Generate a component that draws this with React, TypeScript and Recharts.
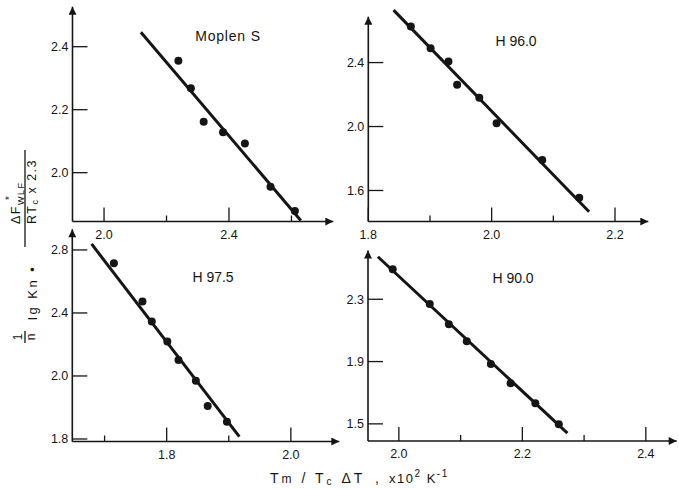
import { ScatterChart, Scatter, XAxis, YAxis, ReferenceLine } from "recharts";

const W = 679;
const H = 489;
const FONT = '"Liberation Sans", Arial, sans-serif';
const INK = "#151515";

// Moplen S
const MOPLEN_X = [2.238, 2.278, 2.319, 2.381, 2.451, 2.533, 2.611];
const MOPLEN_Y = [2.355, 2.268, 2.162, 2.128, 2.093, 1.955, 1.878];
const MOPLEN_FIT_X = [2.118, 2.63];
const MOPLEN_FIT_Y = [2.446, 1.848];

// H 96.0
const H960_X = [1.869, 1.901, 1.93, 1.944, 1.98, 2.008, 2.082, 2.142];
const H960_Y = [2.625, 2.49, 2.406, 2.262, 2.18, 2.02, 1.791, 1.555];
const H960_FIT_X = [1.841, 2.158];
const H960_FIT_Y = [2.728, 1.467];

// H 97.5
const H975_X = [1.715, 1.761, 1.776, 1.801, 1.819, 1.847, 1.866, 1.897];
const H975_Y = [2.716, 2.472, 2.345, 2.218, 2.102, 1.97, 1.81, 1.71];
const H975_FIT_X = [1.679, 1.917];
const H975_FIT_Y = [2.838, 1.615];

// H 90.0
const H900_X = [1.99, 2.05, 2.081, 2.11, 2.149, 2.181, 2.221, 2.259];
const H900_Y = [2.493, 2.27, 2.14, 2.03, 1.885, 1.761, 1.632, 1.498];
const H900_FIT_X = [1.966, 2.273];
const H900_FIT_Y = [2.573, 1.44];

// ticks ("" = minor, unlabelled)
const MOPLEN_XTICKS = [2.0, 2.2, 2.4, 2.6];
const MOPLEN_XLABELS = ["2.0", "", "2.4", ""];
const MOPLEN_YTICKS = [2.0, 2.2, 2.4];
const MOPLEN_YLABELS = ["2.0", "2.2", "2.4"];

const H960_XTICKS = [1.8, 1.9, 2.0, 2.1, 2.2];
const H960_XLABELS = ["1.8", "", "2.0", "", "2.2"];
const H960_YTICKS = [1.6, 2.0, 2.4];
const H960_YLABELS = ["1.6", "2.0", "2.4"];

const H975_XTICKS = [1.7, 1.8, 1.9, 2.0];
const H975_XLABELS = ["", "1.8", "", "2.0"];
const H975_YTICKS = [1.6, 2.0, 2.4, 2.8];
const H975_YLABELS = ["1.8", "2.0", "2.4", "2.8"];

const H900_XTICKS = [2.0, 2.1, 2.2, 2.3, 2.4];
const H900_XLABELS = ["2.0", "", "2.2", "", "2.4"];
const H900_YTICKS = [1.5, 1.9, 2.3];
const H900_YLABELS = ["1.5", "1.9", "2.3"];

const zip = (xs: number[], ys: number[]) => xs.map((x, i) => ({ x, y: ys[i] }));

const labelFor = (ticks: number[], labels: string[], v: number) => {
  const i = ticks.findIndex((t) => Math.abs(t - v) < 1e-9);
  return i >= 0 ? labels[i] : "";
};

function XTick(props: any) {
  const { x, y, payload, ticks, labels } = props;
  const label = labelFor(ticks, labels, payload.value);
  const len = label ? 14 : 6;
  return (
    <g>
      <line x1={x} y1={y} x2={x} y2={y - len} stroke={INK} strokeWidth={1.3} />
      {label && (
        <text x={x} y={y + 17} textAnchor="middle" fontSize={12.5} fontFamily={FONT} fill={INK}>
          {label}
        </text>
      )}
    </g>
  );
}

function YTick(props: any) {
  const { x, y, payload, ticks, labels } = props;
  const label = labelFor(ticks, labels, payload.value);
  return (
    <g>
      <line x1={x} y1={y} x2={x + 15} y2={y} stroke={INK} strokeWidth={1.3} />
      <text x={x - 4} y={y + 4.5} textAnchor="end" fontSize={12.5} fontFamily={FONT} fill={INK}>
        {label}
      </text>
    </g>
  );
}

type PanelProps = {
  box: { left: number; right: number; top: number; bottom: number };
  xDomain: number[];
  yDomain: number[];
  xs: number[];
  ys: number[];
  fitX: number[];
  fitY: number[];
  xTicks: number[];
  xLabels: string[];
  yTicks: number[];
  yLabels: string[];
};

function Panel({ box, xDomain, yDomain, xs, ys, fitX, fitY, xTicks, xLabels, yTicks, yLabels }: PanelProps) {
  const yAxisW = 40;
  const xAxisH = 30;
  const margin = {
    top: box.top,
    left: box.left - yAxisW,
    right: W - box.right,
    bottom: H - box.bottom - xAxisH,
  };
  return (
    <div style={{ position: "absolute", left: 0, top: 0 }}>
      <ScatterChart width={W} height={H} margin={margin}>
        <XAxis
          type="number"
          dataKey="x"
          domain={xDomain}
          allowDataOverflow
          ticks={xTicks}
          interval={0}
          height={xAxisH}
          tickLine={false}
          tickSize={0}
          tickMargin={0}
          axisLine={{ stroke: INK, strokeWidth: 1.6, markerEnd: "url(#arrowhead)" }}
          tick={<XTick ticks={xTicks} labels={xLabels} />}
        />
        <YAxis
          type="number"
          dataKey="y"
          domain={yDomain}
          allowDataOverflow
          ticks={yTicks}
          interval={0}
          width={yAxisW}
          tickLine={false}
          tickSize={0}
          tickMargin={0}
          axisLine={{ stroke: INK, strokeWidth: 1.6, markerStart: "url(#arrowhead)" }}
          tick={<YTick ticks={yTicks} labels={yLabels} />}
        />
        <ReferenceLine
          segment={[
            { x: fitX[0], y: fitY[0] },
            { x: fitX[1], y: fitY[1] },
          ]}
          ifOverflow="visible"
          stroke={INK}
          strokeWidth={3}
        />
        <Scatter
          data={zip(xs, ys)}
          isAnimationActive={false}
          fill={INK}
          shape={(p: any) => <circle cx={p.cx} cy={p.cy} r={4} fill={INK} />}
        />
      </ScatterChart>
    </div>
  );
}

function Overlay() {
  const t = { fontFamily: FONT, fill: INK } as const;
  return (
    <svg width={W} height={H} style={{ position: "absolute", left: 0, top: 0 }}>
      <defs>
        <marker
          id="arrowhead"
          viewBox="0 0 10 10"
          refX="10"
          refY="5"
          markerWidth="11"
          markerHeight="8"
          markerUnits="userSpaceOnUse"
          orient="auto-start-reverse"
        >
          <path d="M0,0 L10,5 L0,10 z" fill={INK} />
        </marker>
      </defs>

      {/* panel titles */}
      <text x={228} y={41} textAnchor="middle" fontSize={14} letterSpacing={0.8} {...t}>Moplen S</text>
      <text x={516} y={46} textAnchor="middle" fontSize={14} {...t}>H 96.0</text>
      <text x={213} y={282} textAnchor="middle" fontSize={14} {...t}>H 97.5</text>
      <text x={513} y={283} textAnchor="middle" fontSize={14} {...t}>H 90.0</text>

      {/* y axis title, rotated */}
      <g transform="rotate(-90)" {...t}>
        <text x={-337} y={22} textAnchor="middle" fontSize={12}>1</text>
        <line x1={-343} y1={25} x2={-331} y2={25} stroke={INK} strokeWidth={1.3} />
        <text x={-337} y={35} textAnchor="middle" fontSize={12}>n</text>
        <text x={-320} y={37} fontSize={13} letterSpacing={2.5}>lg Kn •</text>
        <line x1={-247} y1={25} x2={-150} y2={25} stroke={INK} strokeWidth={1.3} />
        <text x={-224} y={20} fontSize={12.5} letterSpacing={1.5}>
          ΔF<tspan fontSize={9} dy={4}>WLF</tspan>
        </text>
        <text x={-200} y={13} fontSize={10}>*</text>
        <text x={-224} y={36} fontSize={12.5} letterSpacing={1.5}>
          RT<tspan fontSize={9} dy={2}>c</tspan>
          <tspan dy={-2}> x 2.3</tspan>
        </text>
      </g>

      {/* x axis title */}
      <text x={270} y={483} fontSize={14} letterSpacing={3} {...t}>
        T<tspan fontSize={12}>m</tspan> / T<tspan fontSize={10} dy={2}>c</tspan>
        <tspan dy={-2}> ΔT</tspan>
      </text>
      <text x={375} y={483} fontSize={14} {...t}>,</text>
      <text x={389} y={483} fontSize={13} letterSpacing={1.5} {...t}>
        x10<tspan fontSize={10} dy={-6}>2</tspan>
        <tspan dy={6}> K</tspan>
        <tspan fontSize={10} dy={-6}>-1</tspan>
      </text>
    </svg>
  );
}

export default function App() {
  return (
    <div style={{ position: "absolute", left: 0, top: 0, width: W, height: H, background: "#fff" }}>
      <Panel
        box={{ left: 72.5, right: 333.3, top: 6.7, bottom: 221.5 }}
        xDomain={[1.899, 2.734]}
        yDomain={[1.845, 2.527]}
        xs={MOPLEN_X}
        ys={MOPLEN_Y}
        fitX={MOPLEN_FIT_X}
        fitY={MOPLEN_FIT_Y}
        xTicks={MOPLEN_XTICKS}
        xLabels={MOPLEN_XLABELS}
        yTicks={MOPLEN_YTICKS}
        yLabels={MOPLEN_YLABELS}
      />
      <Panel
        box={{ left: 368.3, right: 648.3, top: 16.7, bottom: 221.5 }}
        xDomain={[1.8, 2.254]}
        yDomain={[1.406, 2.687]}
        xs={H960_X}
        ys={H960_Y}
        fitX={H960_FIT_X}
        fitY={H960_FIT_Y}
        xTicks={H960_XTICKS}
        xLabels={H960_XLABELS}
        yTicks={H960_YTICKS}
        yLabels={H960_YLABELS}
      />
      <Panel
        box={{ left: 72.3, right: 339.3, top: 229.3, bottom: 441.5 }}
        xDomain={[1.648, 2.078]}
        yDomain={[1.584, 2.931]}
        xs={H975_X}
        ys={H975_Y}
        fitX={H975_FIT_X}
        fitY={H975_FIT_Y}
        xTicks={H975_XTICKS}
        xLabels={H975_XLABELS}
        yTicks={H975_YTICKS}
        yLabels={H975_YLABELS}
      />
      <Panel
        box={{ left: 368, right: 676.7, top: 250.5, bottom: 441 }}
        xDomain={[1.95, 2.45]}
        yDomain={[1.39, 2.613]}
        xs={H900_X}
        ys={H900_Y}
        fitX={H900_FIT_X}
        fitY={H900_FIT_Y}
        xTicks={H900_XTICKS}
        xLabels={H900_XLABELS}
        yTicks={H900_YTICKS}
        yLabels={H900_YLABELS}
      />
      <Overlay />
    </div>
  );
}
